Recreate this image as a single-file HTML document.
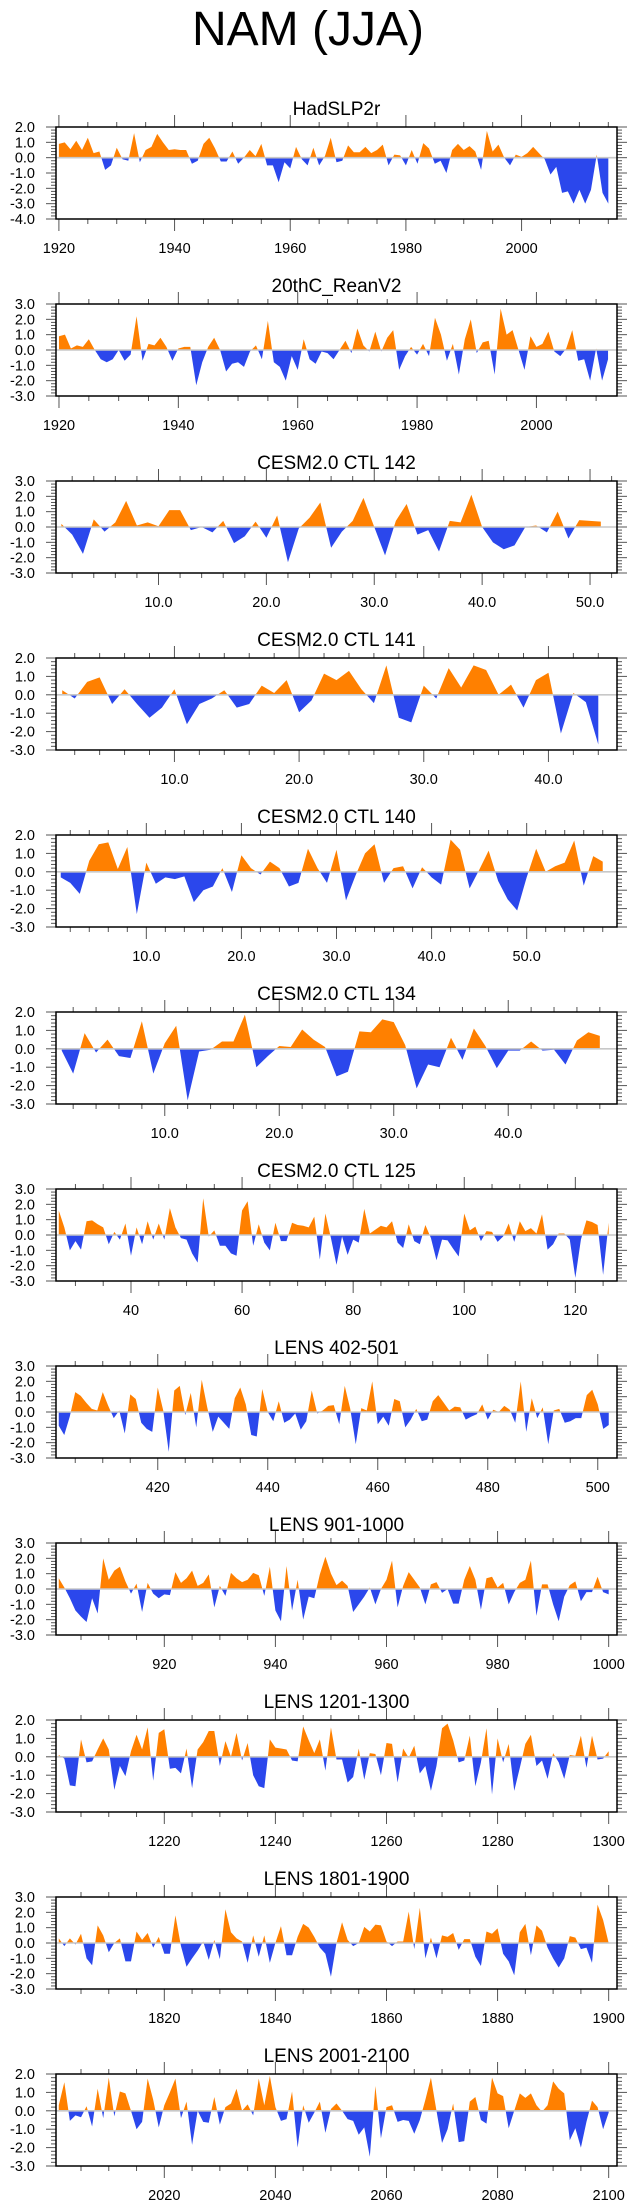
<!DOCTYPE html>
<html><head><meta charset="utf-8"><style>
html,body{margin:0;padding:0;background:#fff;}
svg{display:block;font-family:"Liberation Sans",Arial,sans-serif;}
</style></head><body>
<svg id="chart" width="635" height="2208" viewBox="0 0 635 2208" xmlns="http://www.w3.org/2000/svg">
<text x="308" y="45" font-size="48" text-anchor="middle" fill="#000">NAM (JJA)</text>
</svg>
<script>
const panelTitles=["HadSLP2r","20thC_ReanV2","CESM2.0 CTL 142","CESM2.0 CTL 141","CESM2.0 CTL 140","CESM2.0 CTL 134","CESM2.0 CTL 125","LENS 402-501","LENS 901-1000","LENS 1201-1300","LENS 1801-1900","LENS 2001-2100"];
const startX=[1920,1920,1,1,1,1,27,402,901,1201,1801,2001];
const yMinVals=[-4,-3,-3,-3,-3,-3,-3,-3,-3,-3,-3,-3];
const yMaxVals=[2,3,3,2,2,2,3,3,3,2,3,2];
const xMajorStep=[20,20,10,10,10,10,20,20,20,20,20,20];
const xMinorStep=[5,5,2,2,2,2,5,5,5,5,5,5];
const xLabelDecimals=[0,0,1,1,1,1,0,0,0,0,0,0];
const s0=[0.9,1.0,0.55,1.1,0.5,1.3,0.3,0.4,-0.8,-0.5,0.65,-0.1,-0.2,1.6,-0.3,0.5,0.7,1.55,1.0,0.5,0.55,0.5,0.5,-0.4,-0.2,0.9,1.3,0.6,-0.25,-0.25,0.4,-0.4,0.0,0.5,0.1,0.9,-0.5,-0.5,-1.6,-0.3,-0.7,0.7,-0.1,-0.5,0.65,-0.5,0.1,1.3,-0.3,-0.2,0.8,0.35,0.35,0.7,0.3,0.5,0.85,-0.5,0.2,0.15,-0.5,0.5,-0.4,0.95,0.6,-0.4,-0.2,-1.0,0.5,0.9,0.5,0.75,0.4,-0.8,1.75,0.4,0.85,0.0,-0.5,0.2,0.05,0.3,0.7,0.3,-0.1,-1.1,-0.6,-2.3,-2.2,-3.0,-2.1,-3.0,-2.1,0.2,-2.3,-3.0];
const s1=[0.9,1.0,0.1,0.3,0.2,0.7,0.0,-0.6,-0.8,-0.6,0.0,-0.7,-0.3,2.2,-0.7,0.4,0.3,0.8,0.2,-0.7,0.1,0.2,0.2,-2.3,-0.8,0.2,0.8,0.0,-1.4,-0.9,-0.8,-1.1,-0.1,0.3,-0.6,1.9,-0.8,-1.1,-2.0,-0.4,-1.3,0.7,-0.6,-0.9,-0.1,-0.2,-0.6,0.0,0.6,-0.2,1.4,0.3,-0.1,1.2,-0.1,0.8,1.3,-1.3,-0.4,0.2,-0.3,0.4,-0.4,2.1,1.0,-0.7,0.4,-1.6,0.7,2.0,-0.2,0.5,0.6,-1.6,2.7,1.0,1.3,0.0,-1.3,0.9,0.2,0.4,1.2,-0.1,-0.4,0.1,1.3,-0.7,-0.6,-2.0,0.1,-2.0,-0.6];
const s2=[0.2,-0.5,-1.75,0.5,-0.3,0.3,1.7,0.1,0.3,0.05,1.1,1.1,-0.2,0.0,-0.35,0.4,-1.05,-0.6,0.35,-0.7,0.75,-2.3,-0.1,0.6,1.6,-1.35,-0.3,0.4,1.9,0.0,-1.85,0.4,1.5,-0.5,-0.2,-1.6,0.4,0.3,2.1,0.0,-1.0,-1.45,-1.2,0.0,0.1,-0.35,1.0,-0.75,0.45,0.4,0.35];
const s3=[0.25,-0.2,0.7,0.95,-0.5,0.3,-0.5,-1.25,-0.7,0.3,-1.6,-0.5,-0.2,0.25,-0.7,-0.5,0.5,0.1,0.8,-0.95,-0.3,1.15,0.8,1.3,0.3,-0.45,1.6,-1.25,-1.5,0.5,-0.2,1.45,0.4,1.6,1.35,0.0,0.55,-0.7,0.8,1.2,-2.1,0.1,-0.4,-2.7];
const s4=[-0.3,-0.6,-1.2,0.6,1.5,1.6,0.15,1.35,-2.3,0.5,-0.65,-0.3,-0.4,-0.25,-1.65,-1.0,-0.8,0.2,-1.1,0.9,0.2,-0.15,0.55,0.2,-0.8,-0.6,1.25,0.2,-0.6,1.2,-1.55,-0.2,1.0,1.5,-0.6,0.2,0.3,-0.9,0.25,-0.3,-0.7,1.75,1.2,-0.9,0.1,1.15,-0.5,-1.5,-2.1,-0.3,1.25,0.0,0.3,0.5,1.7,-0.75,0.85,0.55];
const s5=[-0.1,-1.35,0.85,-0.2,0.5,-0.4,-0.5,1.5,-1.35,0.3,1.25,-2.8,-0.15,-0.05,0.4,0.4,1.85,-1.0,-0.4,0.15,0.1,1.05,0.5,0.1,-1.5,-1.25,0.95,0.9,1.6,1.45,0.2,-2.15,-0.85,-1.0,0.6,-0.6,1.1,0.15,-1.05,-0.1,-0.1,0.4,-0.1,-0.05,-0.85,0.45,0.9,0.7];
const s6=[1.6,0.5,-1.0,-0.4,-0.95,0.9,0.95,0.7,0.5,-0.6,0.2,-0.3,0.75,-1.35,0.5,-0.6,0.9,-0.3,0.75,-0.3,1.75,0.5,-0.2,-0.3,-1.2,-1.8,2.4,-0.1,0.3,-0.7,-0.7,-1.2,-1.35,1.6,2.2,-0.7,0.7,-0.5,-1.0,0.8,-0.4,-0.4,0.8,0.65,0.6,0.5,1.2,-1.6,1.4,-0.2,-1.95,-0.1,-1.3,-0.3,-0.5,1.7,0.1,0.35,0.6,0.5,0.9,-0.5,-0.85,0.7,-0.4,-0.6,0.65,-0.2,-1.65,-0.3,-0.35,-0.9,-1.4,1.4,0.3,0.55,-0.4,0.25,0.2,-0.45,-0.1,0.75,-0.45,0.9,0.25,0.45,0.1,1.35,-0.95,-0.6,0.1,0.1,-0.3,-2.8,-0.3,0.95,0.85,0.65,-2.6,0.8];
const s7=[-0.9,-1.5,-0.3,1.3,1.05,0.6,0.2,0.1,1.3,0.4,-0.4,0.1,-1.4,1.15,0.85,-0.7,-1.1,-1.3,1.6,0.1,-2.6,1.4,1.7,-0.2,1.25,-1.0,2.1,0.3,-1.3,-0.3,-0.7,-1.1,0.9,1.6,0.5,-1.5,-1.6,1.5,0.0,-0.6,0.7,-0.7,-0.5,-0.1,-1.15,-0.6,1.4,-0.1,0.1,0.4,0.45,-0.8,1.7,0.2,-2.1,0.25,0.1,2.0,-0.8,-0.3,-0.9,0.85,0.7,-1.0,-0.5,0.2,-0.6,-0.5,0.7,1.1,0.6,0.1,0.35,0.3,-0.5,-0.3,-0.15,0.5,-0.5,0.15,0.0,0.4,0.15,-0.7,2.0,-1.3,0.9,-0.4,0.3,-2.1,0.1,0.2,-0.7,-0.6,-0.4,-0.4,1.1,1.45,0.5,-1.1,-0.85];
const s8=[0.7,0.1,-0.6,-1.4,-1.8,-2.15,-0.6,-1.6,2.0,0.6,1.2,1.45,0.5,-0.3,0.35,-1.5,0.4,-0.3,-0.6,-0.35,-0.4,1.1,0.4,0.7,1.2,0.2,0.4,0.95,-1.2,0.2,-0.45,1.05,0.7,0.45,0.6,1.05,0.9,-0.45,1.45,-1.4,-2.1,1.5,-1.4,0.6,-2.0,-0.5,-0.6,0.95,2.1,1.0,0.25,0.55,0.2,-1.5,-1.0,-0.5,0.1,-1.0,0.0,0.6,1.85,-1.2,0.2,1.1,0.6,0.1,-1.0,0.3,0.45,-0.25,0.0,-0.95,-0.95,0.6,1.5,0.6,-1.35,0.7,0.8,0.1,0.4,-1.0,-0.2,0.4,0.6,1.85,-1.75,0.3,0.3,-1.0,-2.1,-0.5,0.25,0.5,-0.8,-0.2,-0.2,0.8,-0.2,-0.35];
const s9=[0.1,-0.1,-1.55,-1.6,0.95,-0.3,-0.25,0.4,1.0,0.4,-1.8,-0.5,-1.05,0.3,1.2,0.4,1.6,-1.3,1.3,1.5,-0.65,-0.6,-0.9,0.45,-1.7,0.4,0.8,1.4,1.4,-0.5,0.85,0.0,1.3,-0.2,0.75,-1.0,-1.6,-1.7,0.95,0.5,0.45,0.4,-0.2,-0.25,1.65,0.9,0.2,0.95,-0.75,1.6,-0.15,-0.15,-1.4,-1.1,0.45,-1.25,0.2,0.15,-1.0,0.75,0.7,-1.4,0.45,-0.05,0.6,-0.9,-0.5,-1.85,-0.5,1.55,1.8,0.9,-0.3,-0.2,1.15,-1.6,-0.3,1.55,-2.05,1.0,-0.3,0.7,-1.85,-0.6,0.7,1.2,-0.5,-0.2,-1.2,0.2,-0.3,-1.2,0.1,0.05,1.15,-0.6,1.15,-0.15,-0.1,0.3];
const s10=[0.3,-0.2,0.3,-0.1,0.6,-1.0,-1.45,1.15,0.5,-0.6,0.0,0.3,-1.2,-1.2,0.75,0.2,0.65,-0.3,0.4,-0.7,-0.7,1.8,-0.2,-1.55,-1.0,-0.5,0.1,-1.1,0.2,-1.05,2.2,0.7,0.3,0.1,-1.3,0.5,-0.9,0.5,-1.3,0.0,1.1,-0.8,-0.8,0.4,1.25,1.0,0.4,-0.3,-0.7,-2.2,0.0,1.35,0.2,-0.2,0.0,1.05,0.75,1.2,1.15,0.1,-0.2,0.1,0.1,2.05,-0.4,2.3,-1.0,0.35,-1.0,0.5,0.4,0.65,-0.45,0.25,0.25,-0.9,-1.5,0.75,0.6,0.95,-0.7,-1.2,-2.1,0.7,1.25,-0.8,1.15,0.8,-0.3,-1.0,-1.6,-1.0,0.45,0.35,-0.4,-0.3,-1.3,2.5,1.5,0.0];
const s11=[0.3,1.55,-0.55,-0.25,-0.35,0.25,-0.85,1.2,-0.4,1.8,-0.3,1.05,0.95,0.0,-1.0,-0.6,1.75,0.6,-0.9,0.3,1.0,1.75,-0.4,0.5,-1.85,0.0,-0.6,-0.65,0.75,-0.75,0.2,0.4,1.2,0.0,0.35,-0.25,1.75,0.3,1.9,0.2,-0.55,-0.45,1.05,-2.0,0.3,-0.65,-0.1,0.5,-1.2,0.1,0.4,0.0,-0.45,-0.55,-1.3,-0.9,-2.5,1.35,-1.5,0.2,0.3,-0.6,-0.5,-0.55,-1.25,-0.5,0.6,1.8,0.0,-1.75,-1.0,0.4,-1.7,-1.65,0.5,0.75,-0.5,-0.7,1.8,0.95,0.8,-0.95,0.0,0.95,0.7,0.95,0.3,-0.05,0.3,1.6,1.2,0.95,-1.6,-0.95,-2.0,-0.6,0.55,0.2,-1.0,-0.1];
const seriesList=[s0,s1,s2,s3,s4,s5,s6,s7,s8,s9,s10,s11];

const NS="http://www.w3.org/2000/svg";
const svg=document.getElementById('chart');
function mk(tag,attrs,parent){const e=document.createElementNS(NS,tag);for(const k in attrs)e.setAttribute(k,attrs[k]);(parent||svg).appendChild(e);return e;}
const L=56,R=617,H=92;
seriesList.forEach((data,i)=>{
  const top=127+177*i, bot=top+H;
  const x0=startX[i], xmin=x0-0.5, xmax=x0+data.length-1+1.5;
  const ymin=yMinVals[i], ymax=yMaxVals[i];
  const sx=v=>L+(v-xmin)/(xmax-xmin)*(R-L);
  const sy=v=>bot-(v-ymin)/(ymax-ymin)*H;
  const g=mk('g',{});
  
  
  const t=mk('text',{x:336.5,y:top-12,'font-size':19,'text-anchor':'middle',fill:'#000'},g);
  t.textContent=panelTitles[i];
  
  
  // clip paths
  const cpU='cu'+i, cpD='cd'+i;
  const c1=mk('clipPath',{id:cpU},g); mk('rect',{x:L,y:top,width:R-L,height:sy(0)-top},c1);
  const c2=mk('clipPath',{id:cpD},g); mk('rect',{x:L,y:sy(0),width:R-L,height:bot-sy(0)},c2);
  let d='M'+sx(x0)+','+sy(0);
  data.forEach((v,k)=>{d+=' L'+sx(x0+k).toFixed(2)+','+sy(v).toFixed(2);});
  d+=' L'+sx(x0+data.length-1)+','+sy(0)+' Z';
  const pos=mk('path',{d:d,fill:'#ff8000','clip-path':'url(#'+cpU+')'},g);
  
  
  const neg=mk('path',{d:d,fill:'#2b47ec','clip-path':'url(#'+cpD+')'},g);
  
  
  const zl=mk('line',{x1:L,x2:R,y1:sy(0),y2:sy(0),stroke:'#c8c8c8','stroke-width':1.6},g);
  
  
  // y ticks
  for(let v=ymin;v<=ymax+1e-9;v+=0.2){
    const vv=Math.round(v*10)/10, y=sy(vv), major=Math.abs(vv-Math.round(vv))<1e-6;
    const len=major?10:5;
    mk('line',{x1:L-len,x2:L,y1:y,y2:y,stroke:'#555','stroke-width':1},g);
    mk('line',{x1:R,x2:R+len,y1:y,y2:y,stroke:'#555','stroke-width':1},g);
    if(major){
      const yl=mk('text',{x:35,y:y+5,'font-size':14.5,'text-anchor':'end',fill:'#000'},g);
      yl.textContent=vv.toFixed(1);
      
      
    }
  }
  // x ticks
  const ms=xMinorStep[i], Ms=xMajorStep[i];
  for(let v=Math.ceil(xmin/ms)*ms; v<=xmax; v+=ms){
    const x=sx(v), major=(v%Ms===0);
    const len=major?12:5;
    mk('line',{x1:x,x2:x,y1:top-len,y2:top,stroke:'#555','stroke-width':1},g);
    mk('line',{x1:x,x2:x,y1:bot,y2:bot+len,stroke:'#555','stroke-width':1},g);
    if(major){
      const xl=mk('text',{x:x,y:bot+34,'font-size':14.5,'text-anchor':'middle',fill:'#000'},g);
      xl.textContent=v.toFixed(xLabelDecimals[i]);
      
      
    }
  }
  const box=mk('rect',{x:L,y:top,width:R-L,height:H,fill:'none',stroke:'#000','stroke-width':1.5},g);
  
  
});
</script>
</body></html>
